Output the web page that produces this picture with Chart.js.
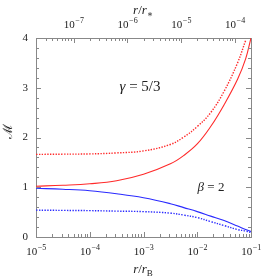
<!DOCTYPE html>
<html>
<head>
<meta charset="utf-8">
<script src="https://cdn.jsdelivr.net/npm/chart.js@4"></script>
<style>
  html, body { margin: 0; padding: 0; background: #fff; }
  #caja { width: 271px; height: 278px; }
</style>
</head>
<body>
<div id="caja"><canvas id="grafico"></canvas></div>
<script>
// log10(r/rB) where the curves were read
const logR = [-5, -4.5, -4, -3.5, -3, -2.5, -2.25, -2, -1.75, -1.5, -1.25, -1.1, -1];
// Mach number M
const rojoSolido   = [1.02, 1.04, 1.07, 1.13, 1.26, 1.47, 1.64, 1.87, 2.22, 2.66, 3.17, 3.58, 4.0];
const rojoPunteado = [1.66, 1.665, 1.67, 1.69, 1.73, 1.86, 2.01, 2.22, 2.5, 2.93, 3.5, 3.95, null];
const azulSolido   = [0.98, 0.96, 0.93, 0.87, 0.79, 0.67, 0.59, 0.51, 0.42, 0.33, 0.22, 0.15, 0.11];
const azulPunteado = [0.54, 0.535, 0.53, 0.52, 0.51, 0.48, 0.44, 0.39, 0.31, 0.23, 0.15, 0.12, 0.09];

// axis ticks
const expAbajo = [-5, -4, -3, -2, -1];     // r/rB
const expArriba = [-7, -6, -5, -4];        // r/r*
const rangoArriba = [-7.70, -3.70];        // log10(r/r*) at the plot edges
const ticksM = [0, 1, 2, 3, 4];

const ROJO = "#ff2a2a";
const AZUL = "#2a2aff";
const GRIS = "#888";
const TEXTO = "#222";
const SERIF = '"Liberation Serif", "DejaVu Serif", serif';

function serie(valores, color, punteado) {
  return {
    data: logR.map((l, i) => ({ x: Math.pow(10, l), y: valores[i] })),
    borderColor: color,
    borderWidth: punteado ? 1.4 : 1.1,
    borderDash: punteado ? [1.4, 1.4] : [],
    pointRadius: 0,
    tension: 0.4,
    xAxisID: "x",
    yAxisID: "y"
  };
}

function superindice(ctx, x, y, base, exp, tam) {
  ctx.font = tam + "px " + SERIF;
  const wb = ctx.measureText(base).width;
  ctx.font = Math.round(tam * 0.72) + "px " + SERIF;
  const we = ctx.measureText(exp).width;
  const x0 = x - (wb + we) / 2;
  ctx.font = tam + "px " + SERIF;
  ctx.fillText(base, x0, y);
  ctx.font = Math.round(tam * 0.72) + "px " + SERIF;
  ctx.fillText(exp, x0 + wb + 0.5, y - tam * 0.42);
}

const dibujoEjes = {
  id: "dibujoEjes",
  afterDraw(chart) {
    const ctx = chart.ctx;
    const a = chart.chartArea;
    const sx = chart.scales.x, st = chart.scales.xTop, sy = chart.scales.y;
    ctx.save();
    ctx.strokeStyle = GRIS;
    ctx.lineWidth = 1;
    const linea = (x1, y1, x2, y2) => { ctx.beginPath(); ctx.moveTo(x1, y1); ctx.lineTo(x2, y2); ctx.stroke(); };

    // inward ticks, bottom axis
    for (let e = -5; e <= -2; e++) {
      for (let k = 1; k <= 9; k++) {
        const px = Math.round(sx.getPixelForValue(k * Math.pow(10, e))) + 0.5;
        linea(px, a.bottom, px, a.bottom - (k === 1 ? 5 : 3));
      }
    }
    // top axis
    for (let e = -8; e <= -4; e++) {
      for (let k = 1; k <= 9; k++) {
        const v = k * Math.pow(10, e);
        if (v < st.min * 1.001 || v > st.max) continue;
        const px = Math.round(st.getPixelForValue(v)) + 0.5;
        linea(px, a.top, px, a.top + (k === 1 ? 5 : 3));
      }
    }
    // left and right
    for (let i = 1; i < 20; i++) {
      const py = Math.round(sy.getPixelForValue(i * 0.2)) + 0.5;
      const len = i % 5 === 0 ? 5 : 3;
      linea(a.left, py, a.left + len, py);
      linea(a.right, py, a.right - len, py);
    }

    // tick labels
    ctx.fillStyle = TEXTO;
    ctx.textBaseline = "alphabetic";
    ctx.textAlign = "left";
    expAbajo.forEach(e => superindice(ctx, sx.getPixelForValue(Math.pow(10, e)), 255, "10", "\u2212" + (-e), 11));
    expArriba.forEach(e => superindice(ctx, st.getPixelForValue(Math.pow(10, e)), 28, "10", "\u2212" + (-e), 11));
    ctx.font = "11px " + SERIF;
    ctx.textAlign = "right";
    ctx.textBaseline = "middle";
    ticksM.forEach(m => ctx.fillText(String(m), a.left - 8, sy.getPixelForValue(m)));

    // axis titles
    ctx.textAlign = "left";
    ctx.textBaseline = "alphabetic";
    const titulo = (xc, y, sub) => {
      ctx.font = "italic 13px " + SERIF;
      const w1 = ctx.measureText("r").width;
      ctx.font = "13px " + SERIF;
      const w2 = ctx.measureText("/").width;
      ctx.font = "9px " + SERIF;
      const w3 = ctx.measureText(sub).width;
      let x = xc - (w1 * 2 + w2 + w3) / 2;
      ctx.font = "italic 13px " + SERIF; ctx.fillText("r", x, y); x += w1;
      ctx.font = "13px " + SERIF; ctx.fillText("/", x, y); x += w2;
      ctx.font = "italic 13px " + SERIF; ctx.fillText("r", x, y); x += w1;
      ctx.font = "9px " + SERIF; ctx.fillText(sub, x, y + 3);
    };
    titulo(143, 273, "B");
    titulo(143, 14, "\u2217");

    ctx.save();
    ctx.translate(12, 131);
    ctx.rotate(-Math.PI / 2);
    ctx.textAlign = "center";
    ctx.font = "13px " + SERIF;
    ctx.fillText("\u2133", 0, 0);
    ctx.restore();

    // annotations
    ctx.font = "italic 15px " + SERIF;
    const wg = ctx.measureText("\u03b3").width;
    ctx.font = "15px " + SERIF;
    const wr = ctx.measureText(" = 5/3").width;
    let x = 140 - (wg + wr) / 2;
    ctx.font = "italic 15px " + SERIF; ctx.fillText("\u03b3", x, 91);
    ctx.font = "15px " + SERIF; ctx.fillText(" = 5/3", x + wg, 91);

    ctx.font = "italic 13px " + SERIF;
    const wb = ctx.measureText("\u03b2").width;
    ctx.font = "13px " + SERIF;
    const wd = ctx.measureText(" = 2").width;
    x = 211 - (wb + wd) / 2;
    ctx.font = "italic 13px " + SERIF; ctx.fillText("\u03b2", x, 191);
    ctx.font = "13px " + SERIF; ctx.fillText(" = 2", x + wb, 191);
    ctx.restore();
  }
};

const sinMarcas = { display: false, drawTicks: false };
const borde = { display: true, color: GRIS, width: 1 };

new Chart(document.getElementById("grafico"), {
  type: "line",
  data: {
    datasets: [
      serie(rojoSolido, ROJO, false),
      serie(rojoPunteado, ROJO, true),
      serie(azulSolido, AZUL, false),
      serie(azulPunteado, AZUL, true)
    ]
  },
  options: {
    responsive: true,
    maintainAspectRatio: false,
    animation: false,
    layout: { padding: 0 },
    plugins: { legend: { display: false }, tooltip: { enabled: false } },
    scales: {
      x: {
        type: "logarithmic", position: "bottom",
        min: 1e-5, max: 1e-1,
        grid: sinMarcas, border: borde, ticks: { display: false },
        afterFit: s => { s.height = 41; }
      },
      xTop: {
        type: "logarithmic", position: "top",
        min: Math.pow(10, rangoArriba[0]), max: Math.pow(10, rangoArriba[1]),
        grid: sinMarcas, border: borde, ticks: { display: false },
        afterFit: s => { s.height = 38; }
      },
      y: {
        type: "linear", position: "left",
        min: 0, max: 4,
        grid: sinMarcas, border: borde, ticks: { display: false },
        afterFit: s => { s.width = 36; }
      },
      yRight: {
        type: "linear", position: "right",
        min: 0, max: 4,
        grid: sinMarcas, border: borde, ticks: { display: false },
        afterFit: s => { s.width = 20; }
      }
    }
  },
  plugins: [dibujoEjes]
});
</script>
</body>
</html>
